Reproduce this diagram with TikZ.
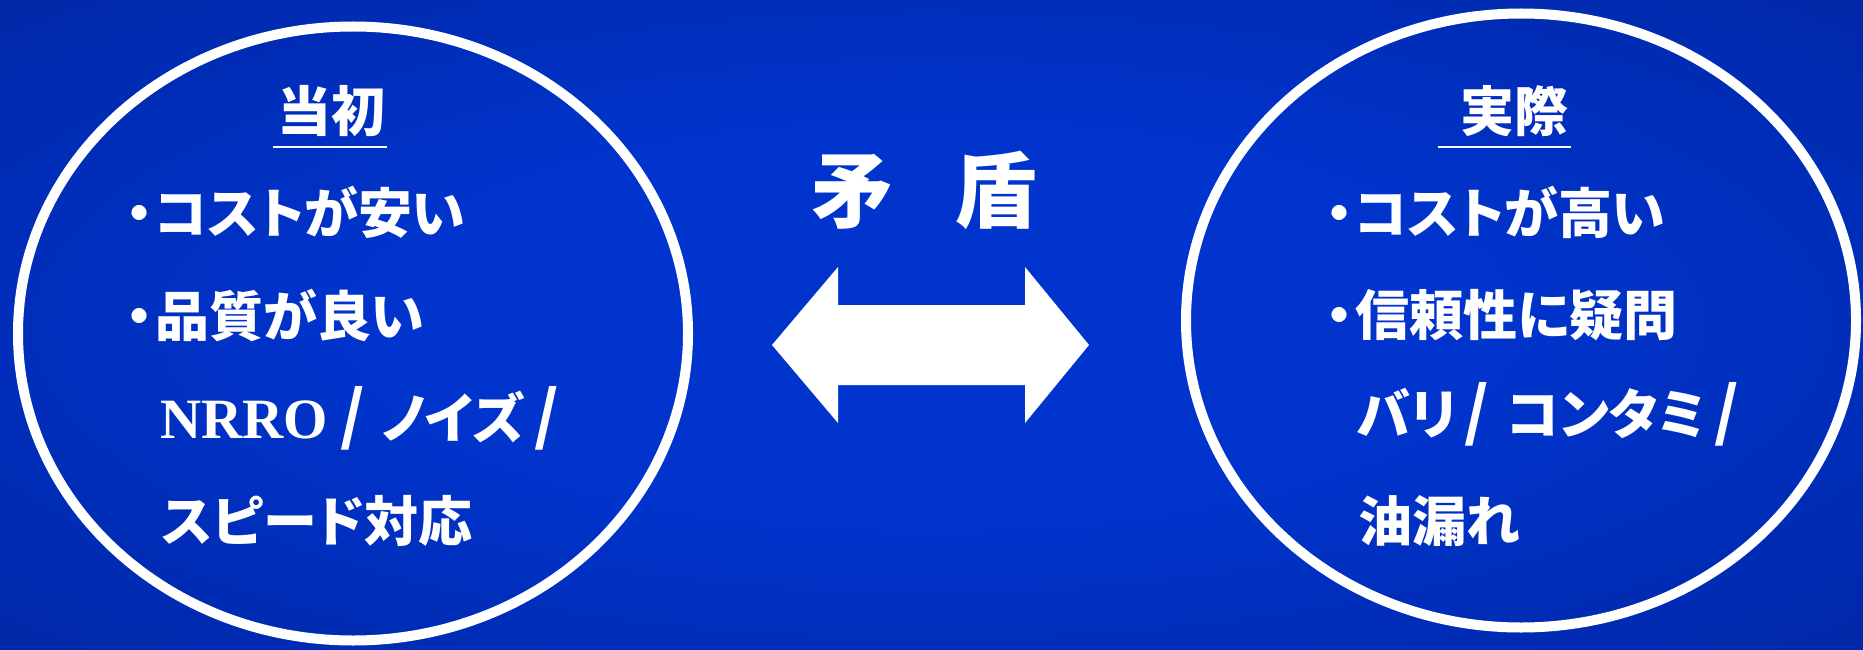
\documentclass[tikz,border=0pt]{standalone}
\usepackage{fontspec}
\newfontfamily\jp{Noto Sans CJK JP}[RawFeature=+palt]
\newfontfamily\jpfix{Noto Sans CJK JP}
\newfontfamily\tnr{Liberation Serif}
\usetikzlibrary{shapes.geometric}
\definecolor{bgcenter}{HTML}{0034CC}
\definecolor{bgmid}{HTML}{0028A8}
\definecolor{bgedge}{HTML}{001A70}
\pgfdeclareradialshading{bgshade}{\pgfpoint{0bp}{0bp}}{color(0bp)=(bgcenter); color(15bp)=(bgcenter); color(35bp)=(bgmid); color(50bp)=(bgedge); color(72bp)=(bgedge)}
\newcommand{\bul}{{\jpfix ・}\hspace{-11pt}}
\newcommand{\sla}{{\fontsize{64}{60}\selectfont /}}
\tikzset{
  ring/.style={draw=white, line width=10pt, shape=ellipse, minimum width=670pt, minimum height=614pt, inner sep=0pt},
  ttl/.style={text=white, font=\jp\bfseries\fontsize{54}{60}\selectfont, inner sep=0pt},
  item/.style={text=white, font=\jp\bfseries\fontsize{54}{60}\selectfont, inner sep=0pt, anchor=west},
  big/.style={text=white, font=\jp\bfseries\fontsize{82}{90}\selectfont, inner sep=0pt},
  arrowshape/.style={fill=white},
  uline/.style={draw=white, line width=1.5pt}
}
\begin{document}
\begin{tikzpicture}[x=1pt, y=-1pt]
\useasboundingbox (0,0) rectangle (1863,650);
\shade[shading=bgshade] (0,0) rectangle (1863,650);
% ellipses
\node[ring] (L) at (353,333.5) {};
\node[ring] (R) at (1521,320.5) {};
% left contents
\node[ttl] (lt) at (331,111) {当初};
\draw[uline] (273,147) -- (387,147);
\node[item] (l1) at (112,212) {\bul コストが安い};
\node[item] (l2) at (112,315) {\bul 品質が良い};
\node[item] (l3) at (160,418) {{\tnr\bfseries\fontsize{57}{60}\selectfont NRRO}\hspace{12pt}\sla\hspace{17pt}ノイズ\hspace{10pt}\sla};
\node[item] (l4) at (162,521) {スピード対応};
% right contents
\node[ttl] (rt) at (1514,111) {実際};
\draw[uline] (1438,147) -- (1571,147);
\node[item] (r1) at (1312,212) {\bul コストが高い};
\node[item] (r2) at (1312,315) {\bul 信頼性に疑問};
\node[item] (r3) at (1357,414) {バリ\hspace{7pt}\sla\hspace{18pt}コンタミ\hspace{8pt}\sla};
\node[item] (r4) at (1358,521) {油漏れ};
% middle
\node[big] (mj) at (924,190) {矛\hspace{62pt}盾};
\path[arrowshape] (772,345) -- (838,267) -- (838,305) -- (1025,305) -- (1025,267)
  -- (1089,345) -- (1025,423) -- (1025,385) -- (838,385) -- (838,423) -- cycle;
\end{tikzpicture}
\end{document}
